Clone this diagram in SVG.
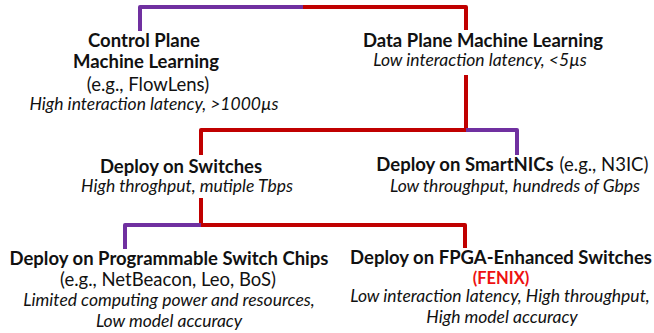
<svg xmlns="http://www.w3.org/2000/svg" width="654" height="333" viewBox="0 0 654 333">
<style>
text{font-family:Lato,"Open Sans","Liberation Sans",sans-serif;fill:#111;text-anchor:middle}
.h{font-weight:bold;font-size:18.5px}
.n{font-size:18.5px}
.i{font-style:italic;font-size:17.5px}
.r{fill:#ee1111;font-weight:bold;font-size:16.5px}
.p{fill:none;stroke:#7030a0;stroke-width:4;stroke-linejoin:round}
.k{fill:none;stroke:#c00000;stroke-width:4;stroke-linejoin:round}
</style>
<rect width="654" height="333" fill="#fff"/>
<g id="connectors">
<path class="p" d="M140,31 V7 H303"/>
<path class="k" d="M303,7 H466 V30"/>
<path class="k" d="M466,75 V130 H201 V155"/>
<path class="p" d="M466,130 H517 V155"/>
<path class="k" d="M201,198 V225 H465 V248"/>
<path class="p" d="M201,225 H125 V249"/>
</g>
<g id="control-plane">
<text class="h" x="144" y="47">Control Plane</text>
<text class="h" x="146" y="68">Machine Learning</text>
<text class="n" x="148" y="91">(e.g., FlowLens)</text>
<text class="i" x="154" y="110">High interaction latency, &gt;1000µs</text>
</g>
<g id="data-plane">
<text class="h" x="483" y="47">Data Plane Machine Learning</text>
<text class="i" x="480" y="66">Low interaction latency, &lt;5µs</text>
</g>
<g id="switches">
<text class="h" x="181" y="173">Deploy on Switches</text>
<text class="i" x="187" y="192">High throghput, mutiple Tbps</text>
</g>
<g id="smartnics">
<text class="h" x="465" y="171">Deploy on SmartNICs</text>
<text class="n" x="604" y="171">(e.g., N3IC)</text>
<text class="i" x="515" y="192">Low throughput, hundreds of Gbps</text>
</g>
<g id="switch-chips">
<text class="h" x="169" y="265">Deploy on Programmable Switch Chips</text>
<text class="n" x="168" y="286">(e.g., NetBeacon, Leo, BoS)</text>
<text class="i" x="169" y="306">Limited computing power and resources,</text>
<text class="i" x="169" y="327">Low model accuracy</text>
</g>
<g id="fpga">
<text class="h" x="501" y="264">Deploy on FPGA-Enhanced Switches</text>
<text class="r" x="501" y="284">(FENIX)</text>
<text class="i" x="500" y="302">Low interaction latency, High throughput,</text>
<text class="i" x="502" y="323">High model accuracy</text>
</g>
</svg>
